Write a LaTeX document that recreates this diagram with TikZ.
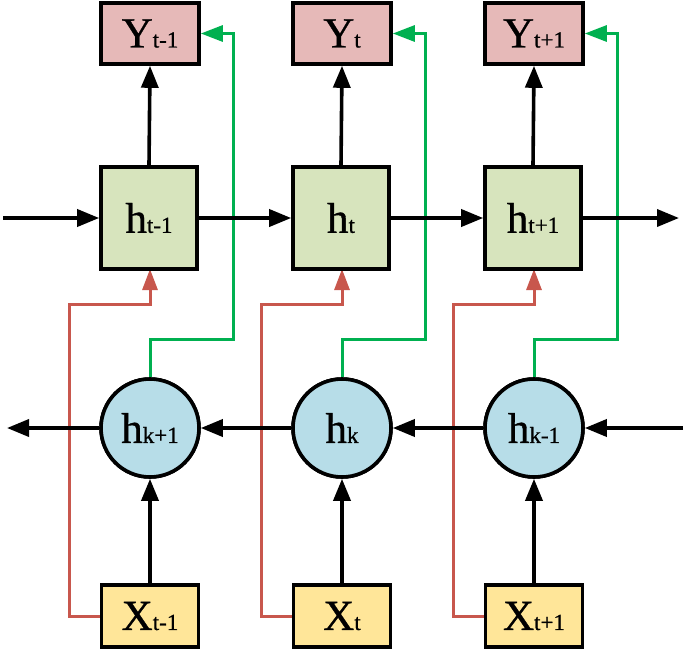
\documentclass[tikz,border=0pt]{standalone}
\usepackage{fontspec}
\setmainfont{Liberation Serif}[FakeBold=0.8]
\usetikzlibrary{arrows.meta}
\definecolor{ypink}{HTML}{E6B9B8}
\definecolor{hgreen}{HTML}{D7E4BD}
\definecolor{cblue}{HTML}{B7DDE8}
\definecolor{xyellow}{HTML}{FFE699}
\definecolor{redl}{HTML}{C8574D}
\definecolor{greenl}{HTML}{00B050}
\newcommand{\lbl}[2]{{\fontsize{43}{43}\selectfont #1\fontsize{23}{23}\selectfont #2}}
\tikzset{
  boxbase/.style={draw=black, line width=3.6pt, inner sep=0pt, text=black},
  ybox/.style={boxbase, fill=ypink, minimum width=98pt, minimum height=61pt},
  hbox/.style={boxbase, fill=hgreen, minimum width=96pt, minimum height=102pt},
  hcirc/.style={boxbase, circle, fill=cblue, minimum size=98pt},
  xbox/.style={boxbase, fill=xyellow, minimum width=97pt, minimum height=62pt},
  blk/.style={draw=black, line width=3.6pt, -{Triangle[length=22pt,width=17pt]}},
  redarr/.style={draw=redl, line width=3pt, -{Triangle[length=21pt,width=15pt]}},
  grnarr/.style={draw=greenl, line width=3pt, -{Triangle[length=22pt,width=16pt]}},
}
\begin{document}
\begin{tikzpicture}[x=1pt,y=-1pt]
\useasboundingbox (0,0) rectangle (685,651);
% column nodes
\node[ybox] (y1) at (150,33.5) {\lbl{Y}{t-1}};
\node[ybox] (y2) at (342,33.5) {\lbl{Y}{t}};
\node[ybox] (y3) at (534,33.5) {\lbl{Y}{t+1}};
\node[hbox] (h1) at (149,218) {\lbl{h}{t-1}};
\node[hbox] (h2) at (341,218) {\lbl{h}{t}};
\node[hbox] (h3) at (533,218) {\lbl{h}{t+1}};
\node[hcirc] (c1) at (150,428) {\lbl{h}{k+1}};
\node[hcirc] (c2) at (342,428) {\lbl{h}{k}};
\node[hcirc] (c3) at (534,428) {\lbl{h}{k-1}};
\node[xbox] (x1) at (150,616) {\lbl{X}{t-1}};
\node[xbox] (x2) at (342,616) {\lbl{X}{t}};
\node[xbox] (x3) at (534,616) {\lbl{X}{t+1}};
% free ends
\coordinate (tl) at (3,218);
\coordinate (tr) at (679,218);
\coordinate (bl) at (7,428);
\coordinate (br) at (683,428);
% red and green routes (drawn first so black lines sit on top)
\foreach \i/\cx in {1/150,2/342,3/534}{
  \draw[redarr] (x\i.west) -- (\cx-81,616) -- (\cx-81,304) -- (\cx,304) -- (\cx,269);
  \draw[grnarr] (c\i.north) -- (\cx,339) -- (\cx+83,339) -- (\cx+83,33.5) -- (y\i.east);
}
% vertical black arrows
\foreach \i in {1,2,3}{
  \draw[blk] (h\i.north) -- (y\i.south);
  \draw[blk] (x\i.north) -- (c\i.south);
}
% horizontal top chain
\draw[blk] (tl) -- (h1.west);
\draw[blk] (h1.east) -- (h2.west);
\draw[blk] (h2.east) -- (h3.west);
\draw[blk] (h3.east) -- (tr);
% horizontal bottom chain
\draw[blk] (br) -- (c3.east);
\draw[blk] (c3.west) -- (c2.east);
\draw[blk] (c2.west) -- (c1.east);
\draw[blk] (c1.west) -- (bl);
% redraw nodes on top
\node[ybox] at (y1) {\lbl{Y}{t-1}};
\node[ybox] at (y2) {\lbl{Y}{t}};
\node[ybox] at (y3) {\lbl{Y}{t+1}};
\node[hbox] at (h1) {\lbl{h}{t-1}};
\node[hbox] at (h2) {\lbl{h}{t}};
\node[hbox] at (h3) {\lbl{h}{t+1}};
\node[hcirc] at (c1) {\lbl{h}{k+1}};
\node[hcirc] at (c2) {\lbl{h}{k}};
\node[hcirc] at (c3) {\lbl{h}{k-1}};
\node[xbox] at (x1) {\lbl{X}{t-1}};
\node[xbox] at (x2) {\lbl{X}{t}};
\node[xbox] at (x3) {\lbl{X}{t+1}};
\end{tikzpicture}
\end{document}
